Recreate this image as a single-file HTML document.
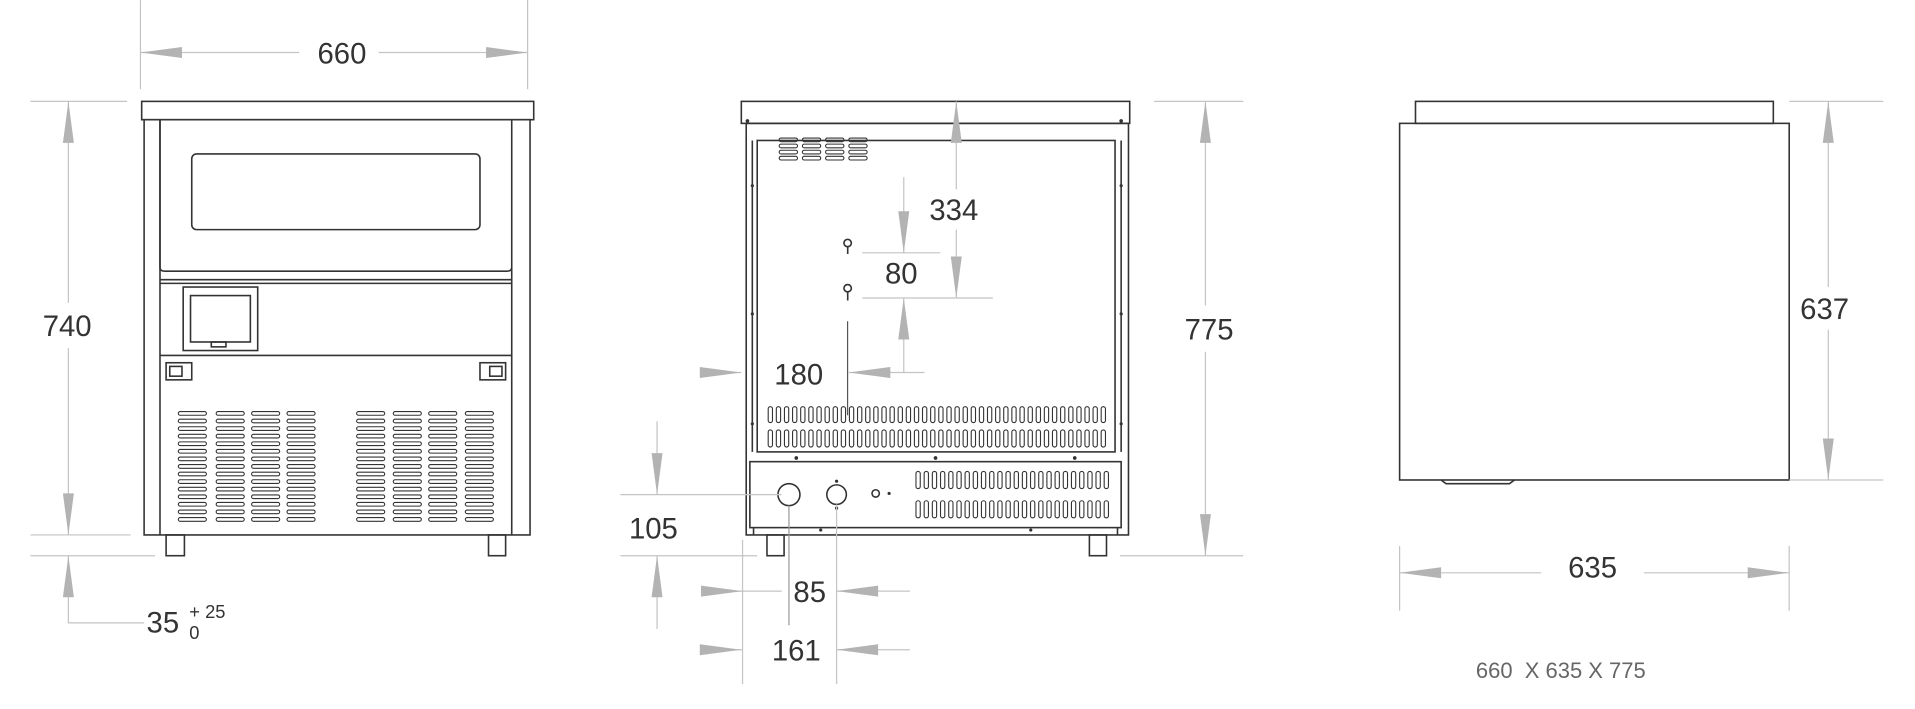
<!DOCTYPE html>
<html><head><meta charset="utf-8"><style>
html,body{margin:0;padding:0;background:#fff;width:1915px;height:709px;overflow:hidden}
svg{display:block}
text{font-family:"Liberation Sans",sans-serif;fill:#333}
</style></head><body>
<svg id="s" width="1915" height="709" viewBox="0 0 1568 580.5" xmlns="http://www.w3.org/2000/svg">
<g fill="none" stroke="#333" stroke-width="1.3">
<!-- FRONT -->
<rect x="116" y="83" width="321" height="15"/>
<rect x="118" y="98" width="316" height="340"/>
<line x1="131" y1="98" x2="131" y2="438"/><line x1="419" y1="98" x2="419" y2="438"/>
<path d="M131 98 V219 Q131 222 135 222 H415 Q419 222 419 219"/>
<rect x="157" y="126" width="236" height="62" rx="4"/>
<line x1="131" y1="229" x2="419" y2="229"/><line x1="131" y1="232" x2="419" y2="232"/>
<line x1="131" y1="291" x2="419" y2="291"/>
<rect x="150" y="235" width="61" height="52"/>
<rect x="156" y="242" width="49" height="38"/>
<rect x="173" y="280" width="12" height="4"/>
<rect x="136" y="297" width="21" height="14"/><rect x="393" y="297" width="21" height="14"/>
<rect x="139" y="300" width="10" height="8"/><rect x="401" y="300" width="10" height="8"/>
<rect x="136" y="438" width="15" height="17"/><rect x="400" y="438" width="14" height="17"/>
<!-- BACK -->
<rect x="607" y="83" width="318" height="18"/>
<rect x="611" y="101" width="313" height="337"/>
<rect x="620" y="115" width="293" height="255"/>
<line x1="616" y1="115" x2="616" y2="370"/><line x1="918" y1="115" x2="918" y2="370"/>
<rect x="614" y="378" width="304" height="54"/>
<line x1="617" y1="432" x2="617" y2="438"/><line x1="915" y1="432" x2="915" y2="438"/>
<circle cx="646" cy="405" r="9"/><circle cx="685" cy="405" r="8"/><circle cx="717" cy="404" r="3"/>
<path d="M694 202 a3 3 0 1 1 0.1 0 v6 M694 239 a3 3 0 1 1 0.1 0 v7"/>
<rect x="628" y="438" width="14" height="17"/><rect x="892" y="438" width="14" height="17"/>
<!-- SIDE -->
<rect x="1159" y="83" width="293" height="18"/>
<rect x="1146" y="101" width="319" height="292"/>
<path d="M1180 393 l4 3 h52 l4 -3"/>
</g>
<g id="vents" fill="none" stroke="#333" stroke-width="0.9"></g>
<g fill="#333"><circle cx="612" cy="99" r="1.5"/><circle cx="918" cy="99" r="1.5"/>
<circle cx="652" cy="375" r="1.5"/><circle cx="766" cy="375" r="1.5"/><circle cx="880" cy="375" r="1.5"/>
<circle cx="728" cy="404" r="1.3"/><circle cx="685" cy="394" r="1.3"/><circle cx="685" cy="416" r="1.3"/>
<circle cx="844" cy="434" r="1.3"/><circle cx="672" cy="434" r="1.3"/>
<circle cx="616" cy="152" r="1.3"/><circle cx="616" cy="257" r="1.3"/><circle cx="616" cy="347" r="1.3"/>
<circle cx="918" cy="152" r="1.3"/><circle cx="918" cy="257" r="1.3"/><circle cx="918" cy="347" r="1.3"/>
</g>
<!-- dimension lines -->
<g stroke="#c4c4c4" stroke-width="1" fill="none">
<line x1="115" y1="0" x2="115" y2="73"/><line x1="432" y1="0" x2="432" y2="73"/>
<line x1="115" y1="43" x2="245" y2="43"/><line x1="310" y1="43" x2="432" y2="43"/>
<line x1="25" y1="83" x2="104" y2="83"/><line x1="25" y1="438" x2="107" y2="438"/>
<line x1="56" y1="83" x2="56" y2="248"/><line x1="56" y1="285" x2="56" y2="438"/>
<line x1="25" y1="455" x2="127" y2="455"/>
<polyline points="56,455 56,510 118,510"/>
<line x1="783" y1="83" x2="783" y2="155"/><line x1="783" y1="188" x2="783" y2="244"/>
<line x1="740" y1="145" x2="740" y2="207"/><line x1="740" y1="244" x2="740" y2="305"/>
<line x1="706" y1="207" x2="770" y2="207"/><line x1="706" y1="244" x2="813" y2="244"/>
<line x1="695" y1="305" x2="757" y2="305"/><line x1="575" y1="305" x2="607" y2="305"/>
<line x1="694" y1="263" x2="694" y2="340" stroke="#555"/>
<line x1="945" y1="83" x2="1018" y2="83"/><line x1="917" y1="455" x2="1018" y2="455"/>
<line x1="987" y1="83" x2="987" y2="250"/><line x1="987" y1="288" x2="987" y2="455"/>
<line x1="538" y1="345" x2="538" y2="405"/><line x1="538" y1="455" x2="538" y2="515"/>
<line x1="508" y1="405" x2="640" y2="405"/><line x1="508" y1="455" x2="620" y2="455"/>
<line x1="608" y1="442" x2="608" y2="560"/><line x1="646" y1="414" x2="646" y2="512" stroke="#999"/>
<line x1="685" y1="413" x2="685" y2="560"/>
<line x1="583" y1="484" x2="640" y2="484"/><line x1="685" y1="484" x2="745" y2="484"/>
<line x1="575" y1="532" x2="608" y2="532"/><line x1="685" y1="532" x2="745" y2="532"/>
<line x1="1465" y1="83" x2="1542" y2="83"/><line x1="1465" y1="393" x2="1542" y2="393"/>
<line x1="1497" y1="83" x2="1497" y2="235"/><line x1="1497" y1="270" x2="1497" y2="393"/>
<line x1="1146" y1="447" x2="1146" y2="500"/><line x1="1465" y1="447" x2="1465" y2="500"/>
<line x1="1146" y1="469" x2="1262" y2="469"/><line x1="1346" y1="469" x2="1465" y2="469"/>
</g>
<g id="arr" fill="#b3b3b3"></g>
<g font-size="24">
<text x="280" y="52" text-anchor="middle">660</text>
<text x="55" y="275" text-anchor="middle">740</text>
<text x="120" y="518">35</text>
<text x="155" y="506" font-size="15">+ 25</text>
<text x="155" y="523" font-size="15">0</text>
<text x="781" y="180" text-anchor="middle">334</text>
<text x="738" y="232" text-anchor="middle">80</text>
<text x="654" y="315" text-anchor="middle">180</text>
<text x="990" y="278" text-anchor="middle">775</text>
<text x="535" y="441" text-anchor="middle">105</text>
<text x="663" y="493" text-anchor="middle">85</text>
<text x="652" y="541" text-anchor="middle">161</text>
<text x="1494" y="261" text-anchor="middle">637</text>
<text x="1304" y="473" text-anchor="middle">635</text>
<text x="1278" y="555" text-anchor="middle" font-size="18" style="fill:#666">660&#160; X 635 X 775</text>
</g>
</svg>
<script>
var ns="http://www.w3.org/2000/svg",v=document.getElementById('vents'),a=document.getElementById('arr');
function el(p,t,o){var e=document.createElementNS(ns,t);for(var k in o)e.setAttribute(k,o[k]);p.appendChild(e);}
[146,177,206,235,292,322,351,381].forEach(function(x){for(var y=337;y<=424;y+=6.2)el(v,'rect',{x:x,y:y,width:23,height:3,rx:1.5});});
[638,657,676,695].forEach(function(x){for(var i=0;i<4;i++)el(v,'rect',{x:x,y:113+i*5,width:15,height:3,rx:1.5});});
for(var i=0;i<42;i++){var x=629+i*6.65;el(v,'rect',{x:x,y:333,width:3.5,height:13,rx:1.7});el(v,'rect',{x:x,y:352,width:3.5,height:14,rx:1.7});}
for(var i=0;i<24;i++){var x=750+i*6.7;el(v,'rect',{x:x,y:386,width:3.5,height:14,rx:1.7});el(v,'rect',{x:x,y:410,width:3.5,height:14,rx:1.7});}
function ar(x,y,d){var L=34,W=4.5,p;
 if(d=='l')p=[x,y,x+L,y-W,x+L,y+W];if(d=='r')p=[x,y,x-L,y-W,x-L,y+W];
 if(d=='u')p=[x,y,x-W,y+L,x+W,y+L];if(d=='d')p=[x,y,x-W,y-L,x+W,y-L];
 el(a,'polygon',{points:p.join(',')});}
ar(115,43,'l');ar(432,43,'r');ar(56,83,'u');ar(56,438,'d');ar(56,455,'u');
ar(783,83,'u');ar(783,244,'d');ar(740,207,'d');ar(740,244,'u');ar(695,305,'l');ar(607,305,'r');
ar(987,83,'u');ar(987,455,'d');ar(538,405,'d');ar(538,455,'u');
ar(608,484,'r');ar(685,484,'l');ar(607,532,'r');ar(685,532,'l');
ar(1497,83,'u');ar(1497,393,'d');ar(1146,469,'l');ar(1465,469,'r');
</script>
</body></html>
